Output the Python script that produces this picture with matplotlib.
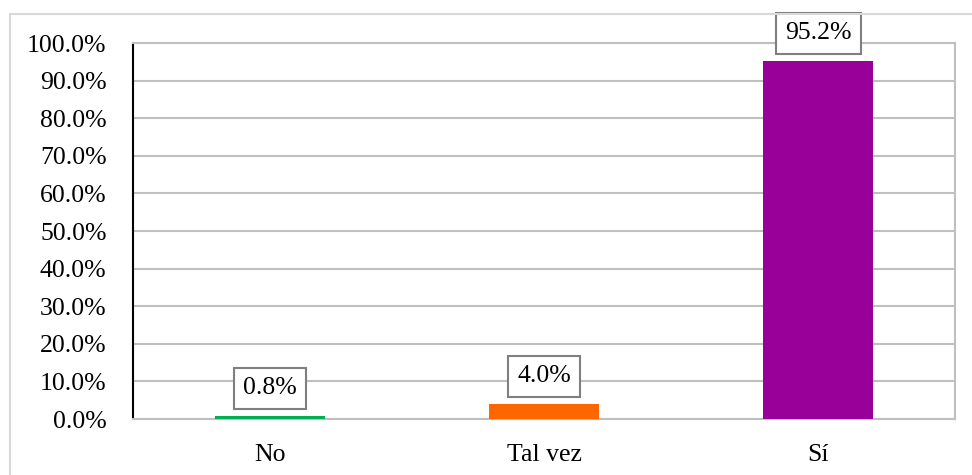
import numpy as np
import matplotlib.pyplot as plt
from matplotlib.lines import Line2D
from matplotlib.ticker import PercentFormatter

plt.rcParams['font.family'] = ['Liberation Serif', 'DejaVu Serif']

categories = ['No', 'Tal vez', 'Sí']
values = [0.8, 4.0, 95.2]
colors = ['#00B050', '#FF6600', '#990099']

fig = plt.figure(figsize=(9.72, 4.75), dpi=100)
ax = fig.add_axes([133/972, 1-419/475, (955-133)/972, (419-43)/475])

x = np.arange(len(categories))
bars = ax.bar(x, values, width=0.4, color=colors, zorder=3)

for bar, v in zip(bars, values):
    ax.annotate(f'{v:.1f}%', (bar.get_x() + bar.get_width()/2, bar.get_height()),
                xytext=(0, 12), textcoords='offset points', ha='center', va='bottom',
                fontsize=18.5, annotation_clip=False, zorder=5,
                bbox=dict(boxstyle='square,pad=0.36', fc='white', ec='#7f7f7f', lw=1.5))

ax.set_xlim(-0.5, 2.5)
ax.set_ylim(0, 100)
ax.set_yticks(np.arange(0, 101, 10))
ax.yaxis.set_major_formatter(PercentFormatter(decimals=1))
ax.set_xticks(x)
ax.set_xticklabels(categories)
ax.tick_params(axis='both', length=0, labelsize=18.5)
ax.tick_params(axis='x', pad=18)
ax.tick_params(axis='y', pad=19)
ax.grid(axis='y', color='#bfbfbf', lw=1.5, zorder=0)

for s in ['top', 'right', 'bottom']:
    ax.spines[s].set_color('#bfbfbf')
    ax.spines[s].set_linewidth(1.5)
ax.spines['left'].set_color('black')
ax.spines['left'].set_linewidth(1.5)

# outer chart border (right and bottom edges fall outside the image)
fig.add_artist(Line2D([10/972, 10/972], [0, 1-14/475], color='#d9d9d9', lw=1.5))
fig.add_artist(Line2D([10/972, 1], [1-14/475, 1-14/475], color='#d9d9d9', lw=1.5))

fig.savefig('out.png', dpi=100)
